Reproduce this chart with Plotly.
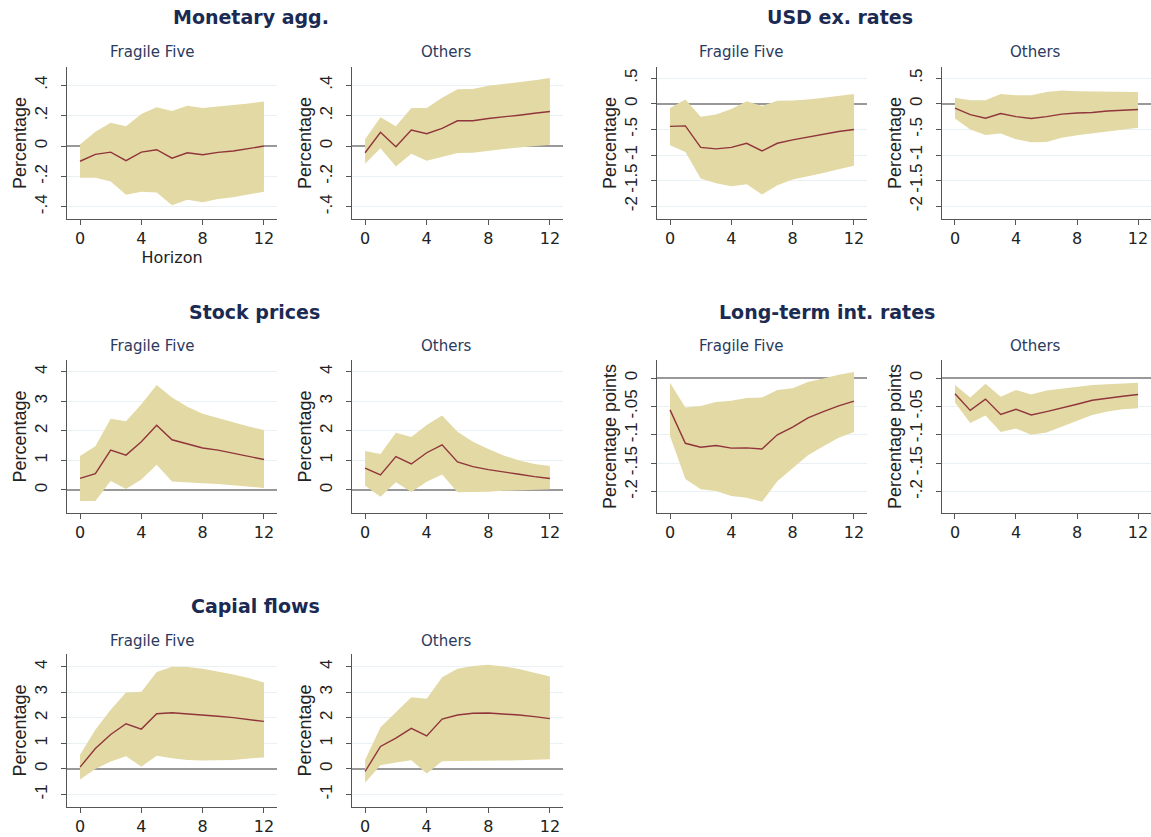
import plotly.graph_objects as go

# ---------------- data ----------------
horizon = list(range(13))
x_ticks = [0, 4, 8, 12]

# Monetary aggregates
mon_ff_irf = [-0.10, -0.055, -0.04, -0.096, -0.04, -0.024, -0.08, -0.044, -0.057, -0.042, -0.033, -0.015, 0.0]
mon_ff_up = [0.01, 0.094, 0.153, 0.131, 0.21, 0.256, 0.23, 0.265, 0.25, 0.262, 0.27, 0.28, 0.293]
mon_ff_lo = [-0.208, -0.208, -0.234, -0.32, -0.30, -0.306, -0.39, -0.354, -0.37, -0.348, -0.337, -0.317, -0.30]
mon_ot_irf = [-0.044, 0.09, -0.004, 0.105, 0.081, 0.116, 0.166, 0.166, 0.181, 0.19, 0.203, 0.216, 0.227]
mon_ot_up = [0.044, 0.19, 0.131, 0.25, 0.25, 0.317, 0.374, 0.376, 0.396, 0.407, 0.42, 0.433, 0.448]
mon_ot_lo = [-0.116, -0.015, -0.135, -0.05, -0.096, -0.07, -0.046, -0.044, -0.03, -0.02, -0.009, 0.0, 0.009]

# USD exchange rates
usd_ff_irf = [-0.44, -0.43, -0.85, -0.88, -0.85, -0.77, -0.92, -0.77, -0.705, -0.65, -0.595, -0.54, -0.50]
usd_ff_up = [-0.08, 0.085, -0.25, -0.21, -0.10, 0.05, -0.04, 0.06, 0.065, 0.085, 0.12, 0.155, 0.19]
usd_ff_lo = [-0.81, -0.94, -1.46, -1.55, -1.61, -1.57, -1.77, -1.59, -1.48, -1.42, -1.35, -1.28, -1.21]
usd_ot_irf = [-0.085, -0.21, -0.28, -0.19, -0.25, -0.285, -0.25, -0.20, -0.18, -0.17, -0.14, -0.12, -0.11]
usd_ot_up = [0.12, 0.07, 0.07, 0.19, 0.17, 0.17, 0.23, 0.26, 0.245, 0.24, 0.24, 0.233, 0.233]
usd_ot_lo = [-0.285, -0.50, -0.61, -0.58, -0.69, -0.75, -0.745, -0.66, -0.615, -0.58, -0.545, -0.505, -0.465]

# Stock prices
stk_ff_irf = [0.39, 0.55, 1.35, 1.18, 1.63, 2.19, 1.70, 1.555, 1.42, 1.35, 1.24, 1.13, 1.03]
stk_ff_up = [1.15, 1.48, 2.41, 2.33, 2.90, 3.55, 3.13, 2.82, 2.58, 2.43, 2.28, 2.15, 2.03]
stk_ff_lo = [-0.37, -0.37, 0.30, 0.03, 0.35, 0.85, 0.29, 0.27, 0.225, 0.20, 0.16, 0.12, 0.07]
stk_ot_irf = [0.74, 0.51, 1.13, 0.88, 1.26, 1.53, 0.95, 0.79, 0.69, 0.60, 0.53, 0.45, 0.39]
stk_ot_up = [1.32, 1.22, 1.94, 1.79, 2.20, 2.52, 1.97, 1.63, 1.39, 1.17, 1.00, 0.88, 0.81]
stk_ot_lo = [0.14, -0.23, 0.26, -0.07, 0.28, 0.52, -0.08, -0.08, -0.06, -0.03, -0.02, 0.0, 0.02]

# Long-term interest rates
lti_ff_irf = [-0.056, -0.115, -0.122, -0.119, -0.1235, -0.123, -0.125, -0.10, -0.0865, -0.07, -0.059, -0.049, -0.0405]
lti_ff_up = [-0.008, -0.052, -0.049, -0.042, -0.040, -0.035, -0.034, -0.021, -0.018, -0.007, -0.0006, 0.006, 0.011]
lti_ff_lo = [-0.102, -0.178, -0.196, -0.199, -0.208, -0.211, -0.218, -0.182, -0.159, -0.136, -0.12, -0.105, -0.095]
lti_ot_irf = [-0.0276, -0.057, -0.037, -0.064, -0.055, -0.065, -0.059, -0.053, -0.046, -0.039, -0.035, -0.032, -0.029]
lti_ot_up = [-0.012, -0.034, -0.010, -0.033, -0.021, -0.029, -0.022, -0.019, -0.015, -0.012, -0.011, -0.0094, -0.008]
lti_ot_lo = [-0.043, -0.079, -0.066, -0.095, -0.089, -0.10, -0.096, -0.086, -0.075, -0.065, -0.059, -0.055, -0.053]

# Capital flows
cap_ff_irf = [0.07, 0.80, 1.35, 1.77, 1.56, 2.16, 2.20, 2.16, 2.11, 2.06, 2.01, 1.94, 1.86]
cap_ff_up = [0.56, 1.53, 2.32, 2.99, 3.02, 3.80, 4.00, 3.99, 3.92, 3.82, 3.70, 3.56, 3.38]
cap_ff_lo = [-0.41, 0.0, 0.29, 0.50, 0.09, 0.52, 0.42, 0.35, 0.33, 0.34, 0.35, 0.41, 0.45]
cap_ot_irf = [-0.10, 0.88, 1.21, 1.59, 1.29, 1.95, 2.11, 2.18, 2.19, 2.16, 2.11, 2.05, 1.97]
cap_ot_up = [0.35, 1.63, 2.22, 2.81, 2.75, 3.59, 3.92, 4.03, 4.08, 4.01, 3.91, 3.76, 3.62]
cap_ot_lo = [-0.54, 0.14, 0.25, 0.34, -0.18, 0.30, 0.31, 0.31, 0.33, 0.33, 0.34, 0.35, 0.38]

# tick labels (Stata style)
mon_tickvals = [-0.4, -0.2, 0, 0.2, 0.4]
mon_ticktext = ["-.4", "-.2", "0", ".2", ".4"]
usd_tickvals = [-2, -1.5, -1, -0.5, 0, 0.5]
usd_ticktext = ["-2", "-1.5", "-1", "-.5", "0", ".5"]
stk_tickvals = [0, 1, 2, 3, 4]
stk_ticktext = ["0", "1", "2", "3", "4"]
lti_tickvals = [-0.2, -0.15, -0.1, -0.05, 0]
lti_ticktext = ["-.2", "-.15", "-.1", "-.05", "0"]
cap_tickvals = [-1, 0, 1, 2, 3, 4]
cap_ticktext = ["-1", "0", "1", "2", "3", "4"]

groups = ["Fragile Five", "Others"]
titles = ["Monetary agg.", "USD ex. rates", "Stock prices", "Long-term int. rates", "Capial flows"]

# ---------------- styling ----------------
W, H = 1151, 837          # reference pixel frame
FIG_H = 850               # rendered page height (compensates capture scaling)
BAND = "#e3d9a4"
LINE = "#90353b"
AXIS = "#555555"
GRID = "#e9f1f4"
ZERO = "#999999"
TITLE_C = "#1b2a52"
SUB_C = "#2b3a60"
TXT = "#222222"
FONT_H = "DejaVu Sans, Liberation Sans, sans-serif"   # horizontal text (looks wide in reference)
FONT_V = "Liberation Sans, Arial, sans-serif"         # rotated text

def px_x(p):
    return p / W

def px_y(p):
    return 1 - p / H

cols = [(67, 277), (352, 563), (657, 867), (942, 1151)]
rows = [(67, 219), (360, 513), (654, 807)]
sub_x = [152, 446, 742, 1035]
sub_y = [52, 346, 641]

panels = [
    (0, 0, mon_ff_irf, mon_ff_up, mon_ff_lo, [-0.48, 0.52], mon_tickvals, mon_ticktext, "Percentage"),
    (0, 1, mon_ot_irf, mon_ot_up, mon_ot_lo, [-0.48, 0.52], mon_tickvals, mon_ticktext, "Percentage"),
    (0, 2, usd_ff_irf, usd_ff_up, usd_ff_lo, [-2.25, 0.72], usd_tickvals, usd_ticktext, "Percentage"),
    (0, 3, usd_ot_irf, usd_ot_up, usd_ot_lo, [-2.25, 0.72], usd_tickvals, usd_ticktext, "Percentage"),
    (1, 0, stk_ff_irf, stk_ff_up, stk_ff_lo, [-0.78, 4.4], stk_tickvals, stk_ticktext, "Percentage"),
    (1, 1, stk_ot_irf, stk_ot_up, stk_ot_lo, [-0.78, 4.4], stk_tickvals, stk_ticktext, "Percentage"),
    (1, 2, lti_ff_irf, lti_ff_up, lti_ff_lo, [-0.238, 0.032], lti_tickvals, lti_ticktext, "Percentage points"),
    (1, 3, lti_ot_irf, lti_ot_up, lti_ot_lo, [-0.238, 0.032], lti_tickvals, lti_ticktext, "Percentage points"),
    (2, 0, cap_ff_irf, cap_ff_up, cap_ff_lo, [-1.49, 4.5], cap_tickvals, cap_ticktext, "Percentage"),
    (2, 1, cap_ot_irf, cap_ot_up, cap_ot_lo, [-1.49, 4.5], cap_tickvals, cap_ticktext, "Percentage"),
]

fig = go.Figure()
layout = {}
annotations = []

for i, (r, c, irf, up, lo, yr, tv, tt, ytitle) in enumerate(panels):
    n = i + 1
    xa = "x" if n == 1 else f"x{n}"
    ya = "y" if n == 1 else f"y{n}"
    fig.add_trace(go.Scatter(x=horizon, y=lo, mode="lines", line=dict(width=0, color=BAND),
                             xaxis=xa, yaxis=ya, showlegend=False, hoverinfo="skip"))
    fig.add_trace(go.Scatter(x=horizon, y=up, mode="lines", line=dict(width=0, color=BAND),
                             fill="tonexty", fillcolor=BAND,
                             xaxis=xa, yaxis=ya, showlegend=False, hoverinfo="skip"))
    fig.add_trace(go.Scatter(x=horizon, y=irf, mode="lines", line=dict(width=1.4, color=LINE),
                             xaxis=xa, yaxis=ya, showlegend=False))
    l, rr = cols[c]
    t, b = rows[r]
    layout["xaxis" if n == 1 else f"xaxis{n}"] = dict(
        domain=[px_x(l), px_x(rr)], anchor=ya, range=[-0.85, 12.85],
        tickvals=x_ticks, ticks="outside", ticklen=5, tickwidth=1.2, tickcolor=AXIS,
        showline=True, linecolor=AXIS, linewidth=1.4, showgrid=False, zeroline=False,
        tickfont=dict(size=16, color=TXT, family=FONT_H),
        title=dict(text="Horizon" if n == 1 else "", font=dict(size=16, color=TXT, family=FONT_H), standoff=2),
    )
    layout["yaxis" if n == 1 else f"yaxis{n}"] = dict(
        domain=[px_y(b), px_y(t)], anchor=xa, range=yr,
        tickvals=tv, ticktext=tt, tickangle=-90,
        ticks="outside", ticklen=5, tickwidth=1.2, tickcolor=AXIS,
        ticklabelstandoff=7,
        showline=True, linecolor=AXIS, linewidth=1.4,
        showgrid=True, gridcolor=GRID, gridwidth=1,
        zeroline=True, zerolinecolor=ZERO, zerolinewidth=1.5,
        tickfont=dict(size=17, color=TXT, family=FONT_V),
        title=dict(text=ytitle, font=dict(size=18, color=TXT, family=FONT_V), standoff=0),
    )
    annotations.append(dict(
        text=groups[c % 2], x=px_x(sub_x[c]), y=px_y(sub_y[r]), xref="paper", yref="paper",
        showarrow=False, xanchor="center", yanchor="middle",
        font=dict(size=15, color=SUB_C, family=FONT_H)))

title_pos = [(251, 17), (840, 17), (254, 312), (827, 312), (256, 606)]
for txt, (tx, ty) in zip(titles, title_pos):
    annotations.append(dict(
        text=f"<b>{txt}</b>", x=px_x(tx), y=px_y(ty), xref="paper", yref="paper",
        showarrow=False, xanchor="center", yanchor="middle",
        font=dict(size=19, color=TITLE_C, family=FONT_H)))

fig.update_layout(
    width=W, height=FIG_H,
    margin=dict(l=0, r=0, t=0, b=0),
    paper_bgcolor="white", plot_bgcolor="white",
    font=dict(family=FONT_H),
    annotations=annotations,
    **layout,
)

post = (
    "document.body.style.margin='0';"
    "document.documentElement.style.overflow='hidden';"
    "document.body.style.overflow='hidden';"
    "var gd=document.getElementById('{plot_id}');"
    "gd.style.position='fixed';gd.style.left='0px';gd.style.top='0px';"
)
fig.write_html("out.html", config={"displayModeBar": False}, post_script=post)
